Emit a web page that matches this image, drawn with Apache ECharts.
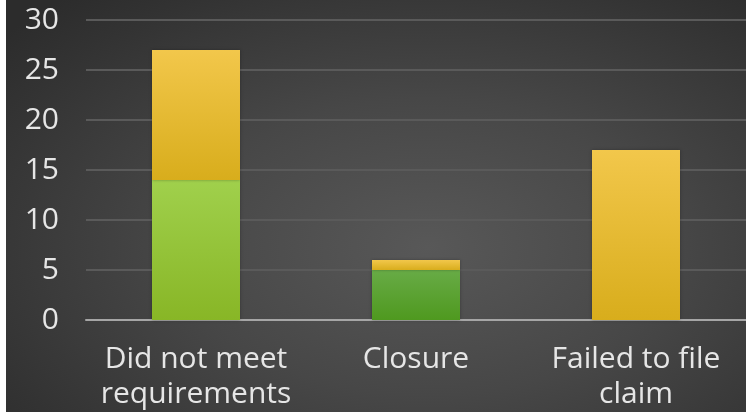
<!DOCTYPE html>
<html>
<head>
<meta charset="utf-8">
<script src="https://cdn.jsdelivr.net/npm/echarts@6/dist/echarts.min.js"></script>
<style>
  html, body { margin: 0; padding: 0; background: #ffffff; }
  #wrap { position: absolute; left: 6px; top: 0; width: 740px; height: 412px;
          background: radial-gradient(ellipse 75% 80% at 57% 60%, #585858 0%, #474747 45%, #333333 85%, #2c2c2c 100%); }
  #chart { width: 740px; height: 412px; }
</style>
</head>
<body>
<div id="wrap"><div id="chart"></div></div>
<script>
// Outcome categories and stacked counts
const categories = ['Did not meet\nrequirements', 'Closure', 'Failed to file\nclaim'];
const greenValues = [14, 5, 0];
const yellowValues = [13, 1, 17];
const yTicks = [0, 5, 10, 15, 20, 25, 30];

// Gradient fills for each green segment
const greenFills = [
  ['#a0d04c', '#88b626'],
  ['#68ab46', '#4f991f'],
  ['#88b626', '#88b626']
];

function vGrad(top, bottom) {
  return new echarts.graphic.LinearGradient(0, 0, 0, 1, [
    { offset: 0, color: top },
    { offset: 1, color: bottom }
  ]);
}

const chart = echarts.init(document.getElementById('chart'), null, { renderer: 'canvas' });

const labelFont = { color: '#e6e6e6', fontSize: 30, fontFamily: 'Open Sans, DejaVu Sans, sans-serif' };

chart.setOption({
  backgroundColor: 'transparent',
  animation: false,
  grid: { left: 80, right: 0, top: 20, bottom: 92 },
  xAxis: {
    type: 'category',
    data: categories,
    axisTick: { show: false },
    axisLine: { show: true, lineStyle: { color: '#a6a6a6', width: 2 } },
    axisLabel: Object.assign({ margin: 22, lineHeight: 35, interval: 0 }, labelFont)
  },
  yAxis: {
    type: 'value',
    min: yTicks[0],
    max: yTicks[yTicks.length - 1],
    interval: 5,
    axisLine: { show: false },
    axisTick: { show: false },
    splitLine: { lineStyle: { color: '#5a5a5a', width: 2 } },
    axisLabel: Object.assign({ margin: 27 }, labelFont)
  },
  series: [
    {
      name: 'green',
      type: 'bar',
      stack: 'total',
      barWidth: '40%',
      data: greenValues.map((v, i) => ({
        value: v,
        itemStyle: { color: vGrad(greenFills[i][0], greenFills[i][1]) }
      })),
      itemStyle: { shadowColor: 'rgba(0,0,0,0.3)', shadowBlur: 3 }
    },
    {
      name: 'yellow',
      type: 'bar',
      stack: 'total',
      barWidth: '40%',
      data: yellowValues,
      itemStyle: { color: vGrad('#f2c74b', '#d8ad1c'),
                   shadowColor: 'rgba(0,0,0,0.3)', shadowBlur: 3 }
    }
  ]
});
</script>
</body>
</html>
